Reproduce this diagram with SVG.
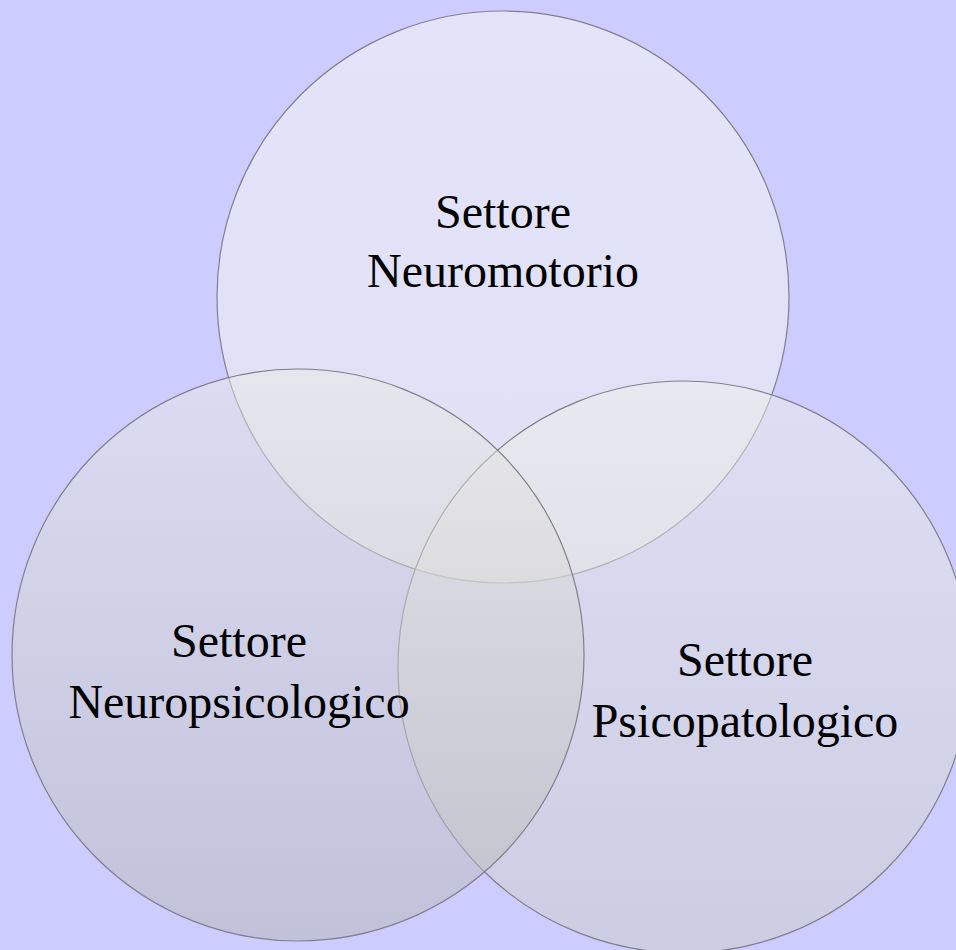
<svg xmlns="http://www.w3.org/2000/svg" width="956" height="950" viewBox="0 0 956 950">
<defs>
<linearGradient id="gTop" x1="0" y1="0" x2="0" y2="1">
<stop offset="0" stop-color="#FAFAF4" stop-opacity="0.5"/>
<stop offset="1" stop-color="#F2F2EC" stop-opacity="0.5"/>
</linearGradient>
<linearGradient id="gLeft" x1="0" y1="0" x2="0" y2="1">
<stop offset="0" stop-color="#EBEBE5" stop-opacity="0.5"/>
<stop offset="1" stop-color="#B6B6B4" stop-opacity="0.5"/>
</linearGradient>
<linearGradient id="gRight" x1="0" y1="0" x2="0" y2="1">
<stop offset="0" stop-color="#F0F0EA" stop-opacity="0.5"/>
<stop offset="1" stop-color="#CCCCC8" stop-opacity="0.5"/>
</linearGradient>
</defs>
<style>
.c{stroke:#80808c;stroke-width:1.2}
.t{font-family:"Liberation Serif","Times New Roman",serif;font-size:48px;fill:#000;text-anchor:middle}
</style>
<rect x="0" y="0" width="956" height="950" fill="#CCCCFF"/>
<g id="connectors"/>
<g id="node-neuromotorio">
<circle class="c" cx="503" cy="297" r="286" fill="url(#gTop)"/>
<text class="t" x="503" y="228">Settore</text>
<text class="t" x="503" y="287">Neuromotorio</text>
</g>
<g id="node-psicopatologico">
<circle class="c" cx="684" cy="667" r="286" fill="url(#gRight)"/>
<text class="t" x="745" y="676">Settore</text>
<text class="t" x="745" y="737">Psicopatologico</text>
</g>
<g id="node-neuropsicologico">
<circle class="c" cx="298" cy="655" r="286" fill="url(#gLeft)"/>
<text class="t" x="239" y="657">Settore</text>
<text class="t" x="239" y="718">Neuropsicologico</text>
</g>
</svg>
